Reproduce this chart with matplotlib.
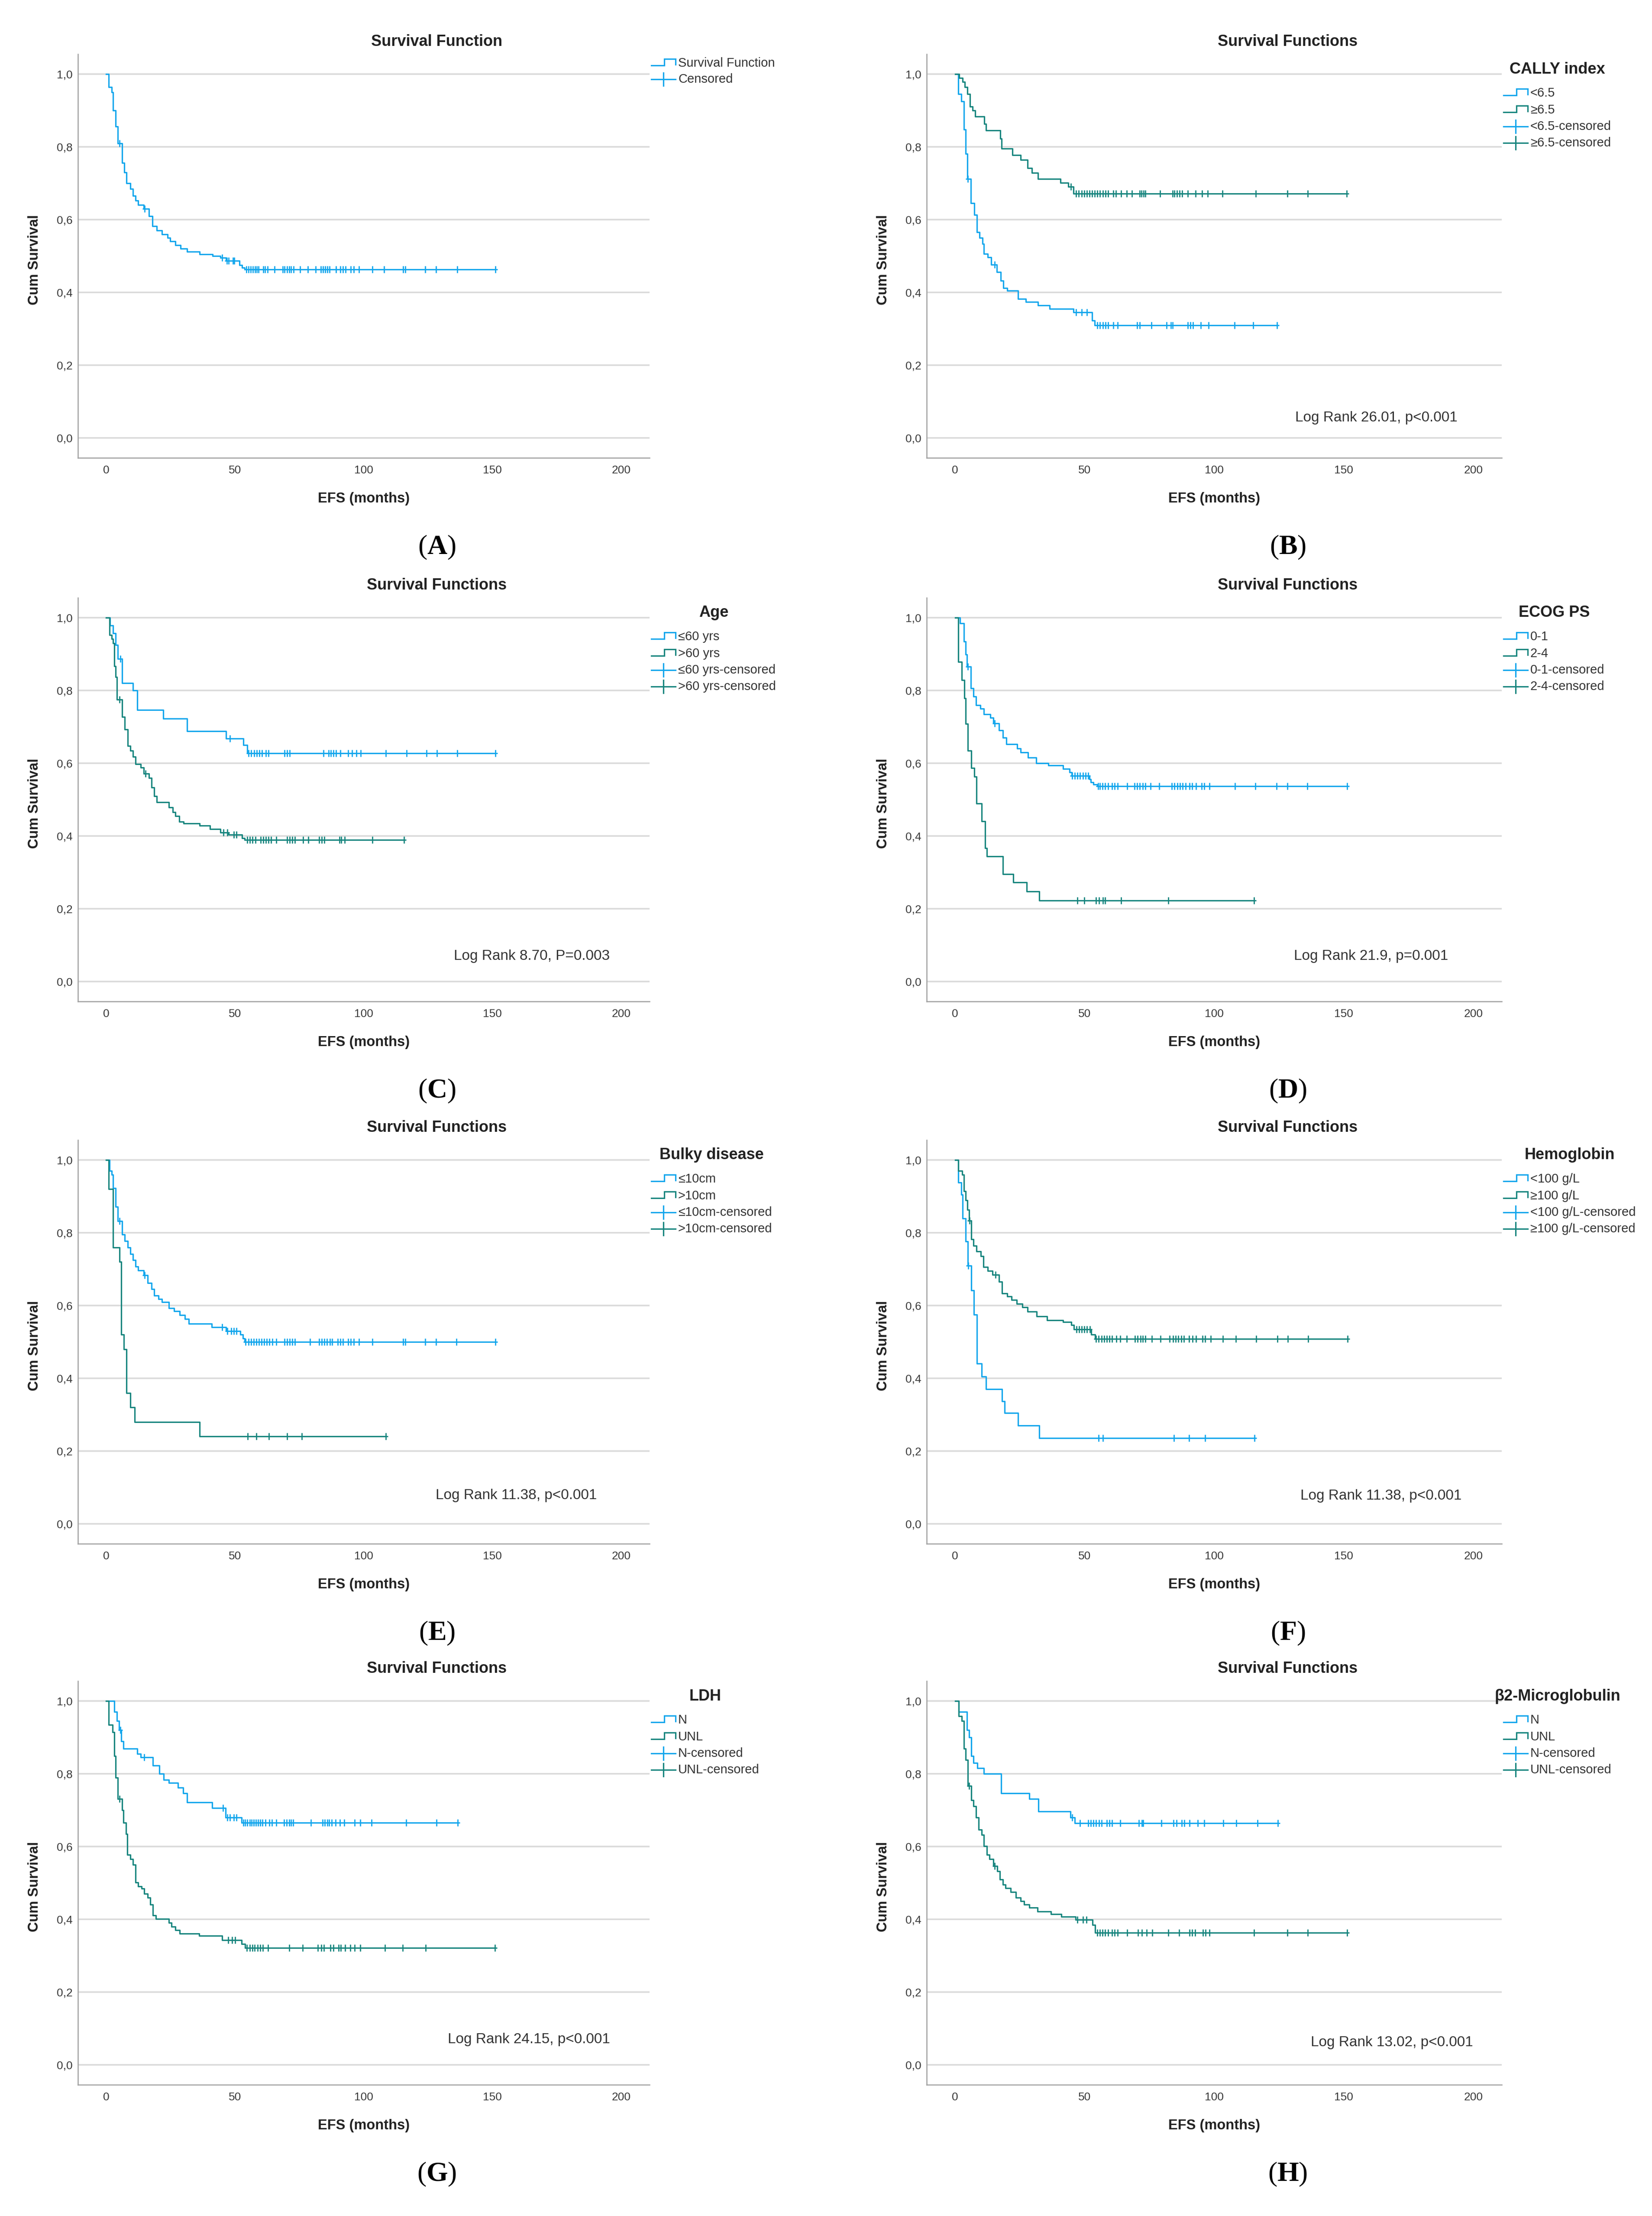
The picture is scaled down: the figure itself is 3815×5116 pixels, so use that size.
import numpy as np
import matplotlib
matplotlib.use('Agg')
import matplotlib.pyplot as plt
from matplotlib.lines import Line2D

plt.rcParams['font.family'] = ['Liberation Sans', 'DejaVu Sans']
plt.rcParams['mathtext.fontset'] = 'custom'
plt.rcParams['mathtext.rm'] = 'Liberation Serif'
plt.rcParams['mathtext.bf'] = 'Liberation Serif:bold'

# ---- data: event times (months), survival after each event, censored times ----
# (A) whole cohort
a_t = [1.0, 2.1, 2.7, 3.7, 4.5, 6.2, 7.0, 7.9, 9.3, 10.3, 11.4, 12.4, 14.5, 16.5, 18.0, 19.6, 21.7, 23.8, 24.8,
       26.9, 28.9, 31.4, 36.2, 41.3, 44.4, 46.5, 51.7, 52.7, 53.7]
a_s = [0.965, 0.95, 0.90, 0.856, 0.81, 0.756, 0.73, 0.70, 0.685, 0.665, 0.652, 0.64, 0.63, 0.61, 0.582, 0.57, 0.56,
       0.55, 0.54, 0.53, 0.52, 0.512, 0.505, 0.50, 0.495, 0.487, 0.475, 0.468, 0.463]
a_c = [5.2, 14.9, 45.0, 46.8, 47.5, 49.2, 49.7, 54.4, 55.3, 56.1, 57.0, 57.8, 58.5, 59.2, 61.0, 61.7, 62.6, 65.4,
       68.5, 69.3, 70.2, 71.0, 71.8, 72.7, 75.2, 78.3, 81.4, 83.3, 84.2, 85.0, 85.9, 86.7, 89.2, 90.9, 91.9, 93.0,
       95.0, 96.1, 98.1, 103.3, 107.9, 115.3, 116.1, 123.9, 128.1, 136.4, 151.2]

# (B) CALLY index
b1_t = [1.2, 2.3, 3.3, 4.1, 4.7, 6.1, 7.4, 8.4, 9.4, 10.5, 11.1, 12.5, 13.9, 16.0, 17.6, 18.6, 20.1, 24.2, 27.3,
        32.0, 36.5, 45.7, 52.9, 53.9]
b1_s = [0.946, 0.925, 0.848, 0.781, 0.712, 0.645, 0.613, 0.565, 0.55, 0.533, 0.506, 0.496, 0.476, 0.456, 0.432,
        0.412, 0.405, 0.382, 0.374, 0.364, 0.355, 0.345, 0.322, 0.31]
b1_c = [4.9, 15.2, 46.7, 48.8, 50.8, 54.9, 55.9, 57.0, 58.0, 59.0, 61.1, 62.7, 70.3, 71.3, 75.8, 81.6, 83.2, 84.0,
        89.8, 90.8, 91.8, 94.9, 97.9, 107.8, 115.0, 124.2]
b2_t = [1.6, 2.9, 3.7, 4.7, 5.7, 6.8, 7.8, 11.3, 11.9, 17.4, 18.0, 22.1, 25.2, 27.9, 29.7, 32.0, 40.6, 43.6, 45.7]
b2_s = [0.99, 0.979, 0.964, 0.946, 0.911, 0.90, 0.883, 0.863, 0.845, 0.823, 0.795, 0.778, 0.764, 0.742, 0.729,
        0.712, 0.701, 0.69, 0.671]
b2_c = [44.7, 46.7, 47.7, 48.8, 49.8, 50.8, 51.8, 52.9, 53.9, 54.9, 55.9, 57.0, 58.0, 59.0, 61.1, 62.1, 64.1, 66.2,
        68.2, 71.3, 71.9, 72.7, 73.4, 79.1, 84.0, 84.6, 85.7, 86.7, 87.7, 89.8, 92.8, 95.3, 97.5, 103.1, 116.0,
        128.3, 136.1, 151.2]

# (C) Age
c1_t = [1.4, 2.7, 3.7, 4.5, 6.2, 10.3, 12.0, 22.1, 31.4, 46.5, 53.3, 54.8]
c1_s = [0.979, 0.957, 0.925, 0.887, 0.82, 0.80, 0.746, 0.723, 0.688, 0.668, 0.65, 0.628]
c1_c = [5.4, 48.1, 55.2, 56.2, 57.4, 58.5, 59.5, 60.5, 62.0, 63.0, 69.2, 70.2, 71.3, 84.3, 86.4, 87.2, 88.2, 89.3,
        90.9, 94.0, 95.5, 97.1, 98.8, 108.5, 116.7, 124.4, 128.5, 136.4, 151.2]
c2_t = [1.2, 2.1, 2.7, 3.1, 3.7, 4.1, 6.2, 7.2, 8.3, 9.3, 10.3, 11.4, 13.4, 14.5, 16.5, 17.6, 18.6, 19.6, 24.4,
        25.8, 26.9, 28.3, 30.0, 36.2, 40.3, 44.4, 47.5, 52.7, 53.7]
c2_s = [0.952, 0.942, 0.93, 0.867, 0.837, 0.775, 0.728, 0.693, 0.648, 0.635, 0.618, 0.598, 0.588, 0.571, 0.56,
        0.533, 0.509, 0.493, 0.478, 0.465, 0.455, 0.439, 0.435, 0.429, 0.419, 0.409, 0.404, 0.394, 0.389]
c2_c = [5.2, 15.3, 45.5, 47.1, 49.6, 50.6, 54.8, 55.8, 56.8, 57.9, 59.9, 61.0, 62.0, 63.0, 64.0, 66.1, 70.2, 71.3,
        72.3, 73.3, 76.4, 78.5, 82.6, 83.7, 84.7, 90.5, 91.3, 92.6, 103.3, 115.7]

# (D) ECOG PS
d1_t = [1.9, 3.3, 4.1, 4.5, 6.0, 7.0, 8.0, 9.7, 11.1, 13.6, 14.8, 16.9, 18.4, 19.8, 23.9, 25.2, 28.2, 31.3, 35.9,
        41.6, 44.1, 45.0, 51.8, 52.4, 53.4, 54.8]
d1_s = [0.985, 0.935, 0.899, 0.866, 0.806, 0.784, 0.76, 0.75, 0.735, 0.725, 0.71, 0.69, 0.67, 0.653, 0.64, 0.63,
        0.615, 0.60, 0.594, 0.585, 0.575, 0.565, 0.556, 0.548, 0.542, 0.537]
d1_c = [4.9, 15.3, 45.2, 46.2, 47.2, 48.2, 49.3, 50.3, 51.3, 55.2, 55.9, 56.9, 57.9, 59.0, 60.6, 61.6, 62.7, 66.4,
        69.3, 70.3, 71.3, 72.4, 73.4, 75.5, 78.8, 83.7, 84.7, 85.8, 86.8, 87.8, 88.9, 90.5, 91.5, 93.0, 95.1, 96.1,
        98.1, 108.0, 115.9, 124.1, 128.2, 135.9, 151.3]
d2_t = [1.2, 2.5, 3.5, 4.1, 4.9, 6.2, 7.4, 8.2, 10.3, 11.5, 12.2, 18.4, 22.5, 27.6, 32.4]
d2_s = [0.879, 0.829, 0.779, 0.708, 0.635, 0.587, 0.563, 0.489, 0.441, 0.367, 0.344, 0.295, 0.272, 0.248, 0.223]
d2_c = [47.2, 49.9, 54.4, 55.5, 57.1, 57.9, 64.1, 82.3, 115.3]

# (E) Bulky disease
e1_t = [1.2, 2.1, 2.7, 3.7, 4.5, 6.2, 7.2, 8.3, 9.3, 10.3, 11.4, 12.4, 14.5, 16.1, 17.6, 18.6, 20.2, 21.7, 24.4,
        26.4, 28.5, 30.6, 32.0, 40.9, 46.5, 52.1, 53.0, 53.8]
e1_s = [0.97, 0.96, 0.923, 0.871, 0.832, 0.795, 0.777, 0.76, 0.742, 0.725, 0.707, 0.697, 0.683, 0.662, 0.645,
        0.627, 0.618, 0.61, 0.593, 0.584, 0.574, 0.563, 0.55, 0.54, 0.53, 0.52, 0.51, 0.50]
e1_c = [5.2, 14.9, 45.0, 47.1, 48.6, 49.6, 50.6, 54.1, 55.2, 56.2, 57.2, 58.3, 59.3, 60.3, 61.4, 62.4, 63.4, 64.5,
        66.1, 69.2, 70.2, 71.3, 72.3, 73.3, 79.1, 82.6, 83.7, 84.7, 85.7, 86.8, 87.8, 89.9, 90.9, 91.9, 94.0, 95.0,
        96.1, 98.1, 103.3, 115.3, 116.1, 123.9, 128.1, 136.0, 151.2]
e2_t = [1.0, 2.7, 5.2, 5.8, 6.8, 7.9, 9.3, 11.0, 36.2]
e2_s = [0.92, 0.76, 0.72, 0.52, 0.48, 0.36, 0.32, 0.28, 0.24]
e2_c = [55.0, 58.3, 63.2, 70.2, 76.0, 108.5]

# (F) Hemoglobin
f1_t = [1.2, 2.3, 2.9, 4.1, 4.9, 6.2, 7.2, 8.4, 10.3, 11.9, 18.1, 19.1, 24.2, 32.4]
f1_s = [0.938, 0.905, 0.84, 0.776, 0.71, 0.642, 0.575, 0.44, 0.405, 0.37, 0.337, 0.305, 0.27, 0.236]
f1_c = [5.0, 55.4, 57.1, 84.4, 90.3, 96.5, 115.6]
f2_t = [1.2, 2.7, 3.3, 4.1, 4.7, 5.3, 6.2, 7.0, 8.2, 9.9, 10.9, 12.5, 14.4, 17.0, 18.1, 20.1, 21.8, 23.8, 25.9,
        27.9, 31.4, 35.5, 41.7, 44.8, 45.8, 52.6, 54.0]
f2_s = [0.97, 0.96, 0.915, 0.89, 0.863, 0.833, 0.782, 0.764, 0.749, 0.736, 0.706, 0.695, 0.685, 0.665, 0.633,
        0.625, 0.615, 0.605, 0.595, 0.583, 0.57, 0.56, 0.555, 0.546, 0.535, 0.52, 0.508]
f2_c = [5.5, 15.6, 46.8, 47.8, 48.9, 49.9, 50.9, 52.0, 54.4, 55.4, 56.5, 57.5, 58.5, 59.5, 60.6, 62.2, 63.7, 66.3,
        69.4, 70.4, 71.5, 72.5, 73.5, 76.0, 79.3, 82.8, 84.2, 85.2, 86.2, 87.3, 88.3, 90.3, 91.6, 93.0, 95.5, 96.5,
        98.6, 103.3, 108.4, 116.2, 124.4, 128.5, 136.3, 151.5]

# (G) LDH
g1_t = [3.1, 4.1, 5.0, 5.8, 6.6, 12.0, 13.4, 18.1, 20.6, 22.3, 24.3, 27.8, 29.9, 31.3, 41.2, 46.4, 52.6]
g1_s = [0.971, 0.946, 0.92, 0.89, 0.869, 0.855, 0.845, 0.823, 0.80, 0.784, 0.775, 0.762, 0.746, 0.721, 0.706,
        0.68, 0.665]
g1_c = [5.4, 14.8, 45.4, 47.0, 48.0, 49.5, 50.5, 53.2, 54.0, 54.8, 55.7, 56.5, 57.3, 58.1, 59.0, 59.8, 60.6, 61.9,
        63.3, 64.3, 66.0, 69.1, 70.1, 71.1, 71.8, 72.6, 79.4, 84.1, 84.9, 85.8, 86.6, 87.6, 89.1, 90.7, 92.4, 96.5,
        98.6, 103.1, 116.5, 128.2, 136.5]
g2_t = [1.0, 2.5, 3.1, 3.7, 4.5, 6.2, 6.6, 7.6, 8.2, 9.3, 10.3, 11.3, 12.4, 13.8, 14.8, 16.1, 17.1, 18.1, 19.2,
        24.3, 25.4, 26.8, 28.5, 36.1, 45.0, 52.6, 54.0]
g2_s = [0.935, 0.915, 0.849, 0.789, 0.731, 0.70, 0.665, 0.634, 0.578, 0.565, 0.55, 0.501, 0.491, 0.485, 0.47,
        0.46, 0.44, 0.411, 0.401, 0.391, 0.38, 0.37, 0.361, 0.355, 0.343, 0.332, 0.321]
g2_c = [5.2, 47.4, 48.9, 50.1, 54.6, 55.7, 56.7, 57.7, 58.8, 59.8, 60.8, 62.9, 71.1, 76.3, 82.1, 83.5, 84.5, 87.0,
        88.2, 90.3, 91.1, 92.8, 94.8, 96.5, 98.6, 108.2, 115.1, 124.1, 150.9]

# (H) beta2-microglobulin
h1_t = [1.4, 4.5, 5.4, 6.2, 7.0, 8.5, 11.1, 17.7, 28.7, 32.2, 44.5, 46.2]
h1_s = [0.971, 0.92, 0.90, 0.849, 0.83, 0.816, 0.80, 0.746, 0.731, 0.697, 0.68, 0.664]
h1_c = [45.2, 48.2, 51.3, 52.4, 53.4, 54.4, 55.5, 56.5, 58.6, 59.6, 60.6, 63.7, 70.9, 72.0, 72.6, 79.6, 84.3,
        85.4, 87.4, 88.5, 90.5, 93.6, 96.1, 103.5, 108.5, 116.7, 124.5]
h2_t = [1.4, 2.5, 3.3, 4.1, 4.9, 6.2, 7.0, 8.0, 9.1, 10.3, 11.1, 12.2, 13.2, 14.8, 16.3, 17.3, 18.4, 19.4, 21.4,
        23.5, 25.2, 26.6, 28.7, 31.8, 36.9, 41.0, 46.5, 53.0, 54.0]
h2_s = [0.959, 0.946, 0.869, 0.838, 0.767, 0.727, 0.711, 0.68, 0.646, 0.632, 0.601, 0.578, 0.565, 0.547, 0.532,
        0.51, 0.495, 0.486, 0.475, 0.46, 0.45, 0.44, 0.432, 0.421, 0.414, 0.407, 0.399, 0.385, 0.363]
h2_c = [5.4, 15.3, 47.2, 49.3, 50.7, 54.8, 55.9, 56.9, 57.9, 59.0, 60.6, 61.6, 62.7, 66.4, 70.5, 72.0, 74.0, 76.1,
        82.3, 86.4, 90.5, 91.5, 92.6, 95.7, 96.7, 98.1, 115.3, 128.2, 136.1, 151.3]

y_ticks = [0.0, 0.2, 0.4, 0.6, 0.8, 1.0]
y_tick_labels = ['0,0', '0,2', '0,4', '0,6', '0,8', '1,0']
x_ticks = [0, 50, 100, 150, 200]

BLUE = '#12A6EC'
TEAL = '#17857E'

panels = [
    dict(tag='A', title='Survival Function', group=None,
         names=['Survival Function', 'Censored'], curves=[(a_t, a_s, a_c, BLUE)], stat=None),
    dict(tag='B', title='Survival Functions', group='CALLY index',
         names=['<6.5', '\u22656.5', '<6.5-censored', '\u22656.5-censored'],
         curves=[(b1_t, b1_s, b1_c, BLUE), (b2_t, b2_s, b2_c, TEAL)],
         stat=('Log Rank 26.01, p<0.001', 0.782, 0.055)),
    dict(tag='C', title='Survival Functions', group='Age',
         names=['\u226460 yrs', '>60 yrs', '\u226460 yrs-censored', '>60 yrs-censored'],
         curves=[(c1_t, c1_s, c1_c, BLUE), (c2_t, c2_s, c2_c, TEAL)],
         stat=('Log Rank 8.70, P=0.003', 0.794, 0.07)),
    dict(tag='D', title='Survival Functions', group='ECOG PS',
         names=['0-1', '2-4', '0-1-censored', '2-4-censored'],
         curves=[(d1_t, d1_s, d1_c, BLUE), (d2_t, d2_s, d2_c, TEAL)],
         stat=('Log Rank 21.9, p=0.001', 0.773, 0.07)),
    dict(tag='E', title='Survival Functions', group='Bulky disease',
         names=['\u226410cm', '>10cm', '\u226410cm-censored', '>10cm-censored'],
         curves=[(e1_t, e1_s, e1_c, BLUE), (e2_t, e2_s, e2_c, TEAL)],
         stat=('Log Rank 11.38, p<0.001', 0.767, 0.078)),
    dict(tag='F', title='Survival Functions', group='Hemoglobin',
         names=['<100 g/L', '\u2265100 g/L', '<100 g/L-censored', '\u2265100 g/L-censored'],
         curves=[(f1_t, f1_s, f1_c, BLUE), (f2_t, f2_s, f2_c, TEAL)],
         stat=('Log Rank 11.38, p<0.001', 0.790, 0.077)),
    dict(tag='G', title='Survival Functions', group='LDH',
         names=['N', 'UNL', 'N-censored', 'UNL-censored'],
         curves=[(g1_t, g1_s, g1_c, BLUE), (g2_t, g2_s, g2_c, TEAL)],
         stat=('Log Rank 24.15, p<0.001', 0.789, 0.069)),
    dict(tag='H', title='Survival Functions', group='\u03b22-Microglobulin',
         names=['N', 'UNL', 'N-censored', 'UNL-censored'],
         curves=[(h1_t, h1_s, h1_c, BLUE), (h2_t, h2_s, h2_c, TEAL)],
         stat=('Log Rank 13.02, p<0.001', 0.809, 0.061)),
]

W, H = 3816, 5116
fig = plt.figure(figsize=(W / 100, H / 100), dpi=100)
fig.patch.set_facecolor('white')


def fx(x):
    return x / W


def fy(y):
    return 1 - y / H


def add_line(xs, ys, color, lw=2.3):
    fig.add_artist(Line2D([fx(v) for v in xs], [fy(v) for v in ys], color=color, lw=lw,
                          transform=fig.transFigure, solid_joinstyle='miter'))


col_left = [180, 2140]
col_width = [1320, 1328]
row_top = [125, 1380, 2632, 3881]
ax_h = 932

renderer = fig.canvas.get_renderer()

for i, p in enumerate(panels):
    r, c = divmod(i, 2)
    L, T = col_left[c], row_top[r]
    R = L + col_width[c]
    ax = fig.add_axes([fx(L), fy(T + ax_h), col_width[c] / W, ax_h / H])

    for t, s, cens, color in p['curves']:
        t = np.asarray(t)
        s = np.asarray(s)
        end = max(cens[-1], t[-1])
        xs = np.r_[0, t, end]
        ys = np.r_[1.0, s, s[-1]]
        ax.step(xs, ys, where='post', color=color, lw=2.3, zorder=3)
        levels = np.r_[1.0, s]
        cy = levels[np.searchsorted(t, cens, side='right')]
        ax.plot(cens, cy, ls='none', marker='|', ms=12, mew=2.0, color=color, zorder=4)
        ax.plot(cens, cy, ls='none', marker='_', ms=7, mew=2.0, color=color, zorder=4)

    ax.set_xlim(-11, 211)
    ax.set_ylim(-0.055, 1.055)
    ax.set_xticks(x_ticks)
    ax.set_yticks(y_ticks)
    ax.set_yticklabels(y_tick_labels)
    ax.tick_params(length=0, labelsize=19, colors='#3a3a3a')
    ax.tick_params(axis='x', pad=12)
    ax.tick_params(axis='y', pad=9)
    ax.yaxis.grid(True, color='#dadada', lw=2.6)
    ax.set_axisbelow(True)
    for side in ['top', 'right']:
        ax.spines[side].set_visible(False)
    for side in ['left', 'bottom']:
        ax.spines[side].set_color('#a0a0a0')
        ax.spines[side].set_linewidth(1.8)

    ax.text(0.628, 1.031, p['title'], transform=ax.transAxes, ha='center', va='center',
            fontsize=26, fontweight='bold', color='#222222')
    ax.text(0.5, -0.101, 'EFS (months)', transform=ax.transAxes, ha='center', va='center',
            fontsize=23.5, fontweight='bold', color='#222222')
    ax.text(-100 / col_width[c], 0.49, 'Cum Survival', transform=ax.transAxes, ha='center', va='center',
            rotation=90, fontsize=23.5, fontweight='bold', color='#222222')
    ax.text(0.628, -0.222, '($\\mathbf{%s}$)' % p['tag'], transform=ax.transAxes, ha='center', va='center',
            fontsize=46, family='Liberation Serif', color='black')

    if p['stat'] is not None:
        txt, sx, sy = p['stat']
        ax.text(sx, sy, txt, transform=ax.get_yaxis_transform(), ha='center', va='center',
                fontsize=24, color='#333333')

    # legend drawn by hand (SPSS style)
    hx = R + 4
    if p['group'] is None:
        rows = [T + 21, T + 58]
        kinds = ['step', 'cross']
        colors = [BLUE, BLUE]
    else:
        rows = [T + 90, T + 129, T + 167, T + 205]
        kinds = ['step', 'step', 'cross', 'cross']
        colors = [BLUE, TEAL, BLUE, TEAL]
    right_edge = hx
    for name, yrow, kind, color in zip(p['names'], rows, kinds, colors):
        if kind == 'step':
            add_line([hx, hx + 30, hx + 30, hx + 56, hx + 56],
                     [yrow + 5, yrow + 5, yrow - 10, yrow - 10, yrow + 3], color)
        else:
            add_line([hx, hx + 56], [yrow, yrow], color)
            add_line([hx + 28, hx + 28], [yrow - 15, yrow + 15], color)
        tx = fig.text(fx(hx + 62), fy(yrow), name, ha='left', va='center', fontsize=21, color='#333333')
        right_edge = max(right_edge, tx.get_window_extent(renderer).x1)
    if p['group'] is not None:
        cx = (hx + right_edge) / 2
        fig.text(fx(cx), fy(T + 35), p['group'], ha='center', va='center', fontsize=26,
                 fontweight='bold', color='#222222')

fig.savefig('out.png', dpi=100, facecolor='white')
